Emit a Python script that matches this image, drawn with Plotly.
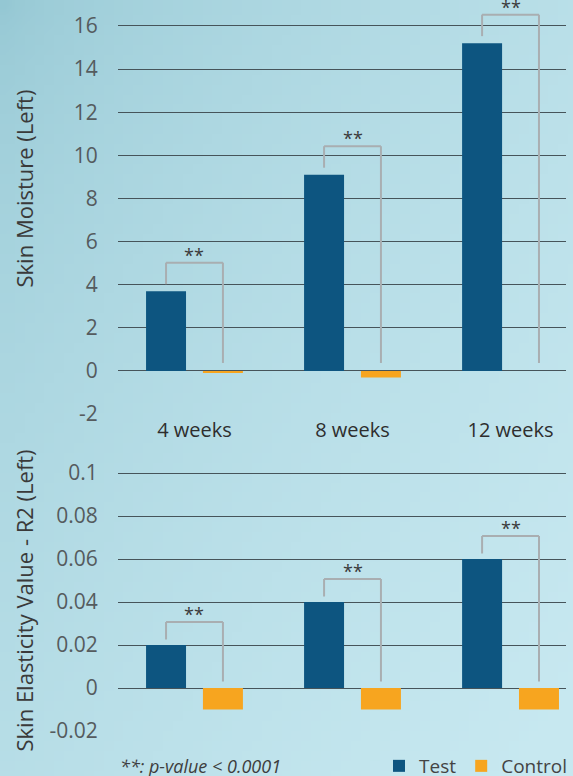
import base64
import struct
import zlib

import plotly.graph_objects as go

# ---------------- data ----------------
categories = ["4 weeks", "8 weeks", "12 weeks"]
moisture_test = [3.7, 9.1, 15.2]
moisture_control = [-0.1, -0.3, 0.0]
elasticity_test = [0.02, 0.04, 0.06]
elasticity_control = [-0.01, -0.01, -0.01]
significance = ["**", "**", "**"]
series_names = ["Test", "Control"]
moisture_ticks = [-2, 0, 2, 4, 6, 8, 10, 12, 14, 16]
elasticity_ticks = [-0.02, 0, 0.02, 0.04, 0.06, 0.08, 0.1]
footnote = "**: p-value &lt; 0.0001"
title_top = "Skin Moisture (Left)"
title_bottom = "Skin Elasticity Value - R2 (Left)"

# ---------------- style ----------------
W, H = 573, 776
TEST_COLOR = "#0d5580"
CONTROL_COLOR = "#f7a51f"
GRID_COLOR = "#46545a"
BRACKET_COLOR = "#a9aeb1"
FONT = "Open Sans"

x_domain = [118 / W, 566 / W]
x_range = [-0.484, 2.351]
top_domain = [1 - 414.1 / H, 1.0]
top_range = [-2, 17.2]
bot_domain = [1 - 731 / H, 1 - 460.1 / H]
bot_range = [-0.02, 0.106]
bar_sep = 0.18
bar_w = 0.253


def png_uri(w, h):
    dark = (148, 199, 211)
    light = (199, 232, 240)
    raw = bytearray()
    for j in range(h):
        raw.append(0)
        v = j / (h - 1)
        for i in range(w):
            u = i / (w - 1)
            t = min(1.0, max(0.0, 0.55 * u + 0.5 * v))
            t = t ** 0.55
            raw += bytes(int(round(dark[k] + (light[k] - dark[k]) * t)) for k in range(3))

    def chunk(tag, data):
        c = struct.pack(">I", len(data)) + tag + data
        return c + struct.pack(">I", zlib.crc32(tag + data) & 0xFFFFFFFF)

    png = (b"\x89PNG\r\n\x1a\n"
           + chunk(b"IHDR", struct.pack(">IIBBBBB", w, h, 8, 2, 0, 0, 0))
           + chunk(b"IDAT", zlib.compress(bytes(raw), 9))
           + chunk(b"IEND", b""))
    return "data:image/png;base64," + base64.b64encode(png).decode()


fig = go.Figure()

panels = [
    ("x", "y", "y3", moisture_test, moisture_control, True),
    ("x2", "y2", "y4", elasticity_test, elasticity_control, False),
]
for xa, ya, ygrid, test, ctrl, show in panels:
    fig.add_trace(go.Bar(x=categories, y=test, name=series_names[0], marker_color=TEST_COLOR,
                         width=bar_w, offset=-bar_sep - bar_w / 2, xaxis=xa, yaxis=ya,
                         legendgroup="t", showlegend=show, marker_line_width=0))
    fig.add_trace(go.Bar(x=categories, y=ctrl, name=series_names[1], marker_color=CONTROL_COLOR,
                         width=bar_w, offset=bar_sep - bar_w / 2, xaxis=xa, yaxis=ya,
                         legendgroup="c", showlegend=show, marker_line_width=0))
    # invisible trace so the grid-only overlay axis gets drawn
    fig.add_trace(go.Scatter(x=categories, y=test, mode="none", xaxis=xa, yaxis=ygrid,
                             showlegend=False, hoverinfo="skip"))

shapes = []
annotations = []


def ppu(domain, rng):
    return (domain[1] - domain[0]) * H / (rng[1] - rng[0])


bracket_specs = [
    ("x", "y", moisture_test, moisture_control, ppu(top_domain, top_range), 7, 21.5, 8),
    ("x2", "y2", elasticity_test, elasticity_control, ppu(bot_domain, bot_range), 5.5, 17.5, 6.5),
]
for xa, ya, test, ctrl, k, d1, d2, d3 in bracket_specs:
    for i in range(len(categories)):
        xl, xr = i - bar_sep, i + bar_sep
        y_leg = test[i] + d1 / k
        y_top = y_leg + d2 / k
        y_r = max(ctrl[i], 0) + d3 / k
        line = dict(color=BRACKET_COLOR, width=2)
        shapes.append(dict(type="line", xref=xa, yref=ya, x0=xl, x1=xl, y0=y_leg, y1=y_top, line=line))
        shapes.append(dict(type="line", xref=xa, yref=ya, x0=xl, x1=xr, y0=y_top, y1=y_top, line=line))
        shapes.append(dict(type="line", xref=xa, yref=ya, x0=xr, x1=xr, y0=y_top, y1=y_r, line=line))
        annotations.append(dict(x=i, y=y_top, xref=xa, yref=ya, text=significance[i], showarrow=False,
                                yanchor="bottom", yshift=-6,
                                font=dict(family=FONT, size=18, color="#3a3a3a")))

annotations.append(dict(x=23 / W, y=1 - 188.5 / H, xref="paper", yref="paper", text=title_top,
                        textangle=-90, showarrow=False, xanchor="center", yanchor="middle",
                        font=dict(family=FONT, size=22, color="#3a3a3a")))
annotations.append(dict(x=23 / W, y=1 - 600.5 / H, xref="paper", yref="paper", text=title_bottom,
                        textangle=-90, showarrow=False, xanchor="center", yanchor="middle",
                        font=dict(family=FONT, size=22, color="#3a3a3a")))
annotations.append(dict(x=118 / W, y=1 - 766 / H, xref="paper", yref="paper", text=footnote,
                        showarrow=False, xanchor="left", yanchor="middle",
                        font=dict(family=FONT, size=18, color="#3d3d3d", style="italic")))

tick_font = dict(family=FONT, size=21, color="#555b5e")
label_axis = dict(showgrid=False, zeroline=False, showline=False, ticks="outside", ticklen=15,
                  tickcolor="rgba(0,0,0,0)", tickfont=tick_font, automargin=False)
grid_axis = dict(showgrid=True, gridcolor=GRID_COLOR, gridwidth=1.3, zeroline=False,
                 showticklabels=False, showline=False, ticks="", automargin=False)

fig.update_layout(
    width=W, height=H, autosize=False,
    margin=dict(l=0, r=0, t=0, b=0, pad=0, autoexpand=False),
    paper_bgcolor="#bfe2eb",
    plot_bgcolor="rgba(0,0,0,0)",
    barmode="group",
    font=dict(family=FONT, color="#3a3a3a"),
    images=[dict(source=png_uri(58, 78), xref="paper", yref="paper", x=0, y=1, sizex=1, sizey=1,
                 xanchor="left", yanchor="top", sizing="stretch", layer="below")],
    xaxis=dict(domain=x_domain, anchor="y", type="category", range=x_range, showgrid=False,
               zeroline=False, showline=False, ticks="", ticklabelstandoff=2, automargin=False,
               tickfont=dict(family=FONT, size=20, color="#2e2e2e")),
    yaxis=dict(domain=top_domain, anchor="x", range=top_range, tickvals=moisture_ticks,
               ticktext=[f"{v:g}" for v in moisture_ticks], **label_axis),
    yaxis3=dict(overlaying="y", anchor="x", range=top_range, tickvals=moisture_ticks[1:], **grid_axis),
    xaxis2=dict(domain=x_domain, anchor="y2", type="category", range=x_range, showgrid=False,
                zeroline=False, showline=False, showticklabels=False, automargin=False),
    yaxis2=dict(domain=bot_domain, anchor="x2", range=bot_range, tickvals=elasticity_ticks,
                ticktext=[f"{v:g}" for v in elasticity_ticks], **label_axis),
    yaxis4=dict(overlaying="y2", anchor="x2", range=bot_range, tickvals=elasticity_ticks[1:], **grid_axis),
    legend=dict(orientation="h", x=1.0, xanchor="right", y=1 - 766 / H, yanchor="middle",
                bgcolor="rgba(0,0,0,0)", font=dict(family=FONT, size=19, color="#444"),
                traceorder="normal"),
    shapes=shapes,
    annotations=annotations,
    showlegend=True,
)

fig.write_html("out.html", config={"displayModeBar": False},
               post_script="document.body.style.margin='0';document.documentElement.style.overflow='hidden';document.body.style.overflow='hidden';")
